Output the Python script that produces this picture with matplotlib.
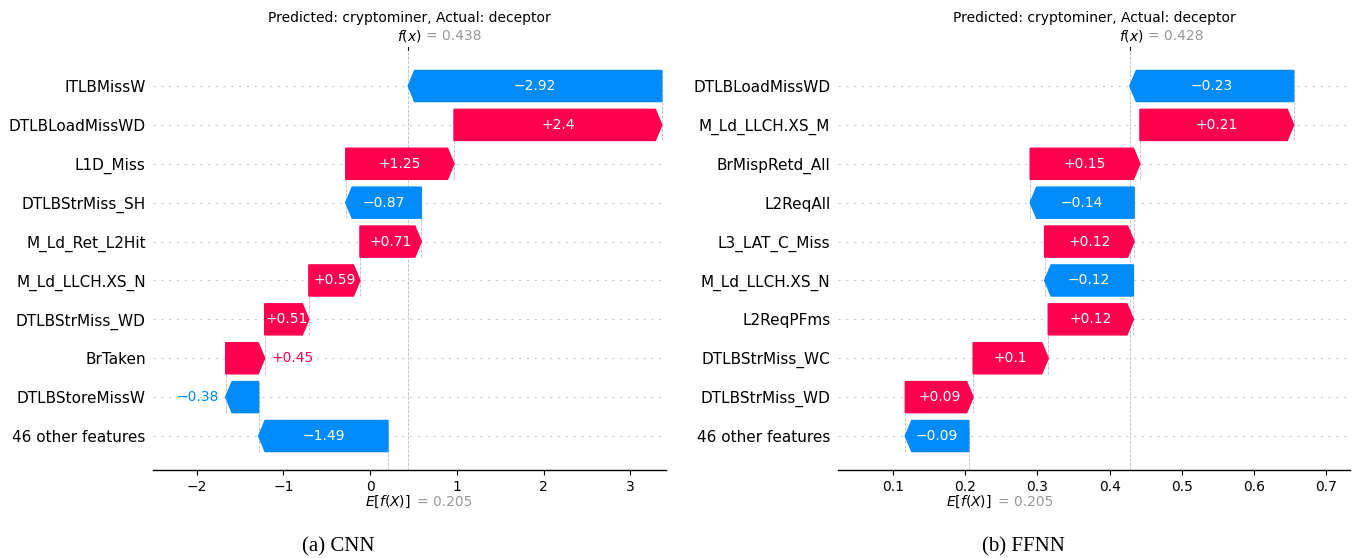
import numpy as np
import matplotlib
matplotlib.use("Agg")
import matplotlib.pyplot as plt

# shap colours
red = "#ff0051"
blue = "#008bfb"

title = "Predicted: cryptominer, Actual: deceptor"

# features listed top to bottom, last row is the grouped remainder
cnn_features = ["ITLBMissW", "DTLBLoadMissWD", "L1D_Miss", "DTLBStrMiss_SH",
                "M_Ld_Ret_L2Hit", "M_Ld_LLCH.XS_N", "DTLBStrMiss_WD", "BrTaken",
                "DTLBStoreMissW", "46 other features"]
cnn_values = [-2.924, 2.396, 1.248, -0.872, 0.708, 0.589, 0.509, 0.45, -0.38, -1.491]
cnn_base = 0.205
cnn_fx = 0.438
cnn_ticks = [-2, -1, 0, 1, 2, 3]

ffnn_features = ["DTLBLoadMissWD", "M_Ld_LLCH.XS_M", "BrMispRetd_All", "L2ReqAll",
                 "L3_LAT_C_Miss", "M_Ld_LLCH.XS_N", "L2ReqPFms", "DTLBStrMiss_WC",
                 "DTLBStrMiss_WD", "46 other features"]
ffnn_values = [-0.227, 0.213, 0.152, -0.144, 0.124, -0.123, 0.118, 0.104, 0.094, -0.088]
ffnn_base = 0.205
ffnn_fx = 0.428
ffnn_ticks = [0.1, 0.2, 0.3, 0.4, 0.5, 0.6, 0.7]

captions = ["(a) CNN", "(b) FFNN"]


def fmt(v, f="%+0.02f"):
    s = (f % v).rstrip("0").rstrip(".")
    return s.replace("-", "\u2212")


def waterfall(ax, features, values, base, fx, ticks, xlim, renderer):
    n = len(features)
    rows = np.arange(n)[::-1]
    ax.set_xlim(*xlim)
    ax.set_ylim(-0.874, n - 1 + 0.926)

    p0, p1 = ax.transData.transform([[0, 0], [1, 0]])
    px_unit = p1[0] - p0[0]
    hl = 6.5 / px_unit

    for r in rows:
        ax.axhline(r, color="#cccccc", lw=0.8, dashes=(2, 5), zorder=-1)

    # walk from the bottom (base value) upwards
    start = base
    for i in range(n - 1, -1, -1):
        v = values[i]
        r = rows[i]
        c = red if v >= 0 else blue
        dx = v - hl if v >= 0 else v + hl
        ax.arrow(start, r, dx, 0, head_length=hl, width=0.8, head_width=0.8,
                 color=c, lw=1)
        if i < n - 1:
            ax.plot([start, start], [r - 1 - 0.4, r + 0.4], color="#bbbbbb",
                    linestyle="--", linewidth=0.6, zorder=-1)
        end = start + v
        txt = ax.text(start + 0.5 * v, r, fmt(v), ha="center", va="center",
                      color="white", fontsize=10)
        tw = txt.get_window_extent(renderer).width
        if tw > abs(v) * px_unit + 2:
            txt.remove()
            off = 5 if v >= 0 else -5
            ax.annotate(fmt(v), xy=(end, r), xytext=(off, 0), textcoords="offset points",
                        ha="left" if v >= 0 else "right", va="center", color=c,
                        fontsize=10)
        start = end

    ax.axvline(base, 0, 1 / n, color="#bbbbbb", linestyle="--", linewidth=0.6, zorder=-1)
    ax.axvline(fx, 0, 1, color="#bbbbbb", linestyle="--", linewidth=0.6, zorder=-1)

    ax.set_yticks(rows)
    ax.set_yticklabels(features, fontsize=11)
    ax.tick_params(axis="y", length=0, pad=5.5)
    ax.set_xticks(ticks)
    ax.tick_params(axis="x", labelsize=10, length=3.5, width=0.8)
    for s in ["top", "left", "right"]:
        ax.spines[s].set_visible(False)
    ax.spines["bottom"].set_linewidth(1.0)

    # f(x) mark on top, E[f(X)] below the axis
    ax.plot([fx, fx], [1, 1 + 3 / 420], color="black", lw=0.8, clip_on=False,
            transform=ax.get_xaxis_transform())
    ax.annotate("$f(x)$", xy=(fx, 1), xycoords=("data", "axes fraction"),
                xytext=(-11, 10), textcoords="offset pixels", ha="left",
                va="baseline", fontsize=10)
    ax.annotate("= %0.03f" % fx, xy=(fx, 1), xycoords=("data", "axes fraction"),
                xytext=(18, 10), textcoords="offset pixels", ha="left",
                va="baseline", fontsize=10, color="#999999")
    ax.annotate("$E[f(X)]$", xy=(base, 0), xycoords=("data", "axes fraction"),
                xytext=(-23, -36), textcoords="offset pixels", ha="left",
                va="baseline", fontsize=10)
    ax.annotate("= %0.03f" % base, xy=(base, 0), xycoords=("data", "axes fraction"),
                xytext=(29, -36), textcoords="offset pixels", ha="left",
                va="baseline", fontsize=10, color="#999999")
    ax.annotate(title, xy=(0.5, 1), xycoords="axes fraction", xytext=(0, 28),
                textcoords="offset pixels", ha="center", va="baseline", fontsize=10)


fig = plt.figure(figsize=(13.66, 5.58), dpi=100)
renderer = fig.canvas.get_renderer()

ax1 = fig.add_axes([153.3 / 1366, 1 - 470 / 558, (666 - 153.3) / 1366, 420 / 558])
waterfall(ax1, cnn_features, cnn_values, cnn_base, cnn_fx, cnn_ticks, (-2.50, 3.41), renderer)

ax2 = fig.add_axes([838 / 1366, 1 - 470 / 558, (1350 - 838) / 1366, 420 / 558])
waterfall(ax2, ffnn_features, ffnn_values, ffnn_base, ffnn_fx, ffnn_ticks, (0.0238, 0.733), renderer)

fig.text(338 / 1366, 1 - 551 / 558, captions[0], family="Liberation Serif",
         fontsize=15, ha="center", va="baseline")
fig.text(1023 / 1366, 1 - 551 / 558, captions[1], family="Liberation Serif",
         fontsize=15, ha="center", va="baseline")

fig.savefig("out.png", dpi=100)
